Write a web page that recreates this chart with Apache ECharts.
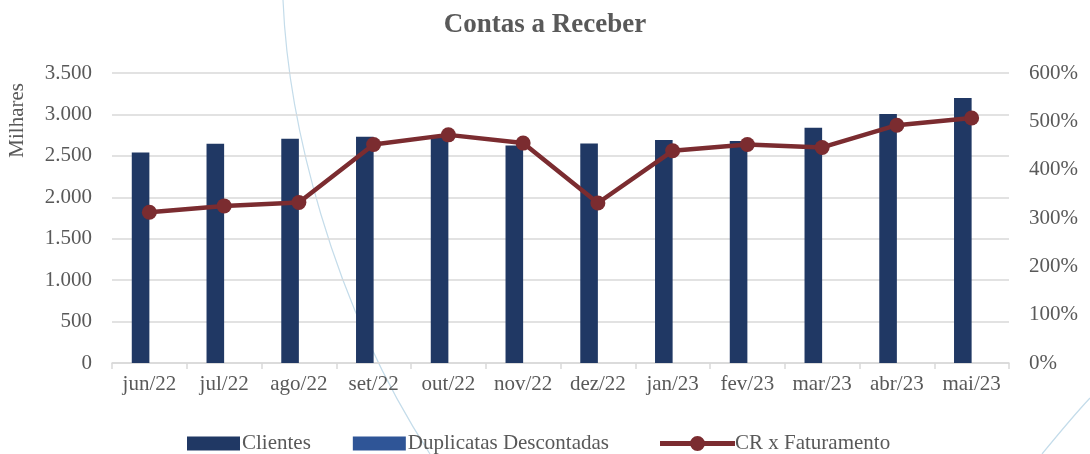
<!DOCTYPE html>
<html>
<head>
<meta charset="utf-8">
<title>Contas a Receber</title>
<script src="https://cdn.jsdelivr.net/npm/echarts@6/dist/echarts.min.js"></script>
<style>
  html, body { margin: 0; padding: 0; background: #fff; }
  #chart { width: 1090px; height: 454px; }
</style>
</head>
<body>
<div id="chart"></div>
<script>
// dados
const meses = ['jun/22', 'jul/22', 'ago/22', 'set/22', 'out/22', 'nov/22', 'dez/22', 'jan/23', 'fev/23', 'mar/23', 'abr/23', 'mai/23']
const clientes = [2540, 2645, 2705, 2730, 2745, 2625, 2648, 2690, 2680, 2838, 3005, 3198]
const duplicatas = [0, 0, 0, 0, 0, 0, 0, 0, 0, 0, 0, 0]
const crFaturamento = [312, 325, 332, 452, 472, 455, 331, 439, 452, 446, 492, 507]

const FONT = 'Liberation Serif, DejaVu Serif, serif'
const GRAY = '#595959'
const VINHO = '#7b2c30'

const chart = echarts.init(document.getElementById('chart'))

// formata milhares com ponto
function milhar(v) {
  return String(v).replace(/\B(?=(\d{3})+(?!\d))/g, '.')
}

// ícone da legenda da linha: traço grosso com bolinha no meio
const iconeLinha = 'path://M0,5h75v5h-75z M45,7.5a7.5,7.5 0 1 1 -15,0a7.5,7.5 0 1 1 15,0z'

chart.setOption({
  animation: false,
  textStyle: { fontFamily: FONT, color: GRAY },
  title: {
    text: 'Contas a Receber',
    left: 'center',
    top: 7,
    textStyle: { fontFamily: FONT, fontSize: 27, fontWeight: 'bold', color: GRAY }
  },
  legend: [
    {
      left: 182,
      top: 428,
      itemWidth: 53,
      itemHeight: 14,
      itemGap: 42,
      textStyle: { fontFamily: FONT, fontSize: 21, color: GRAY, padding: [0, 0, 0, -3] },
      data: [
        { name: 'Clientes', icon: 'rect' },
        { name: 'Duplicatas Descontadas', icon: 'rect' }
      ]
    },
    {
      left: 655,
      top: 428,
      itemWidth: 75,
      itemHeight: 15,
      textStyle: { fontFamily: FONT, fontSize: 21, color: GRAY, padding: [0, 0, 0, -5] },
      data: [{ name: 'CR x Faturamento', icon: iconeLinha, itemStyle: { color: VINHO } }]
    }
  ],
  grid: { left: 112, right: 81, top: 73, bottom: 91 },
  xAxis: {
    type: 'category',
    data: meses,
    axisLine: { lineStyle: { color: '#d9d9d9', width: 1.5 } },
    axisTick: { show: true, length: 6, lineStyle: { color: '#d9d9d9', width: 1.5 } },
    axisLabel: { interval: 0, fontFamily: FONT, fontSize: 21, color: GRAY, margin: 11 }
  },
  yAxis: [
    {
      type: 'value',
      min: 0,
      max: 3500,
      interval: 500,
      axisLine: { show: false },
      axisTick: { show: false },
      splitLine: { lineStyle: { color: '#d9d9d9', width: 1.5 } },
      axisLabel: { fontFamily: FONT, fontSize: 21, color: GRAY, margin: 20, formatter: milhar }
    },
    {
      type: 'value',
      min: 0,
      max: 600,
      interval: 100,
      axisLine: { show: false },
      axisTick: { show: false },
      splitLine: { show: false },
      axisLabel: { fontFamily: FONT, fontSize: 21, color: GRAY, margin: 20, formatter: '{value}%' }
    }
  ],
  graphic: [
    {
      type: 'text',
      left: 7,
      top: 83,
      rotation: Math.PI / 2,
      style: { text: 'Milhares', fontFamily: FONT, fontSize: 21, fill: GRAY }
    },
    {
      type: 'bezierCurve',
      z: -1,
      shape: { x1: 283, y1: 0, cpx1: 288, cpy1: 120, cpx2: 330, cpy2: 300, x2: 430, y2: 454 },
      style: { stroke: '#c4dcea', lineWidth: 1.2, fill: null }
    },
    {
      type: 'bezierCurve',
      z: -1,
      shape: { x1: 1042, y1: 454, cpx1: 1060, cpy1: 432, cpx2: 1075, cpy2: 414, x2: 1090, y2: 398 },
      style: { stroke: '#c4dcea', lineWidth: 1.2, fill: null }
    }
  ],
  series: [
    {
      name: 'Clientes',
      type: 'bar',
      data: clientes,
      barWidth: 17.6,
      barGap: '0%',
      itemStyle: { color: '#203864' }
    },
    {
      name: 'Duplicatas Descontadas',
      type: 'bar',
      data: duplicatas,
      barWidth: 17.6,
      itemStyle: { color: '#2f5597' }
    },
    {
      name: 'CR x Faturamento',
      type: 'line',
      yAxisIndex: 1,
      data: crFaturamento,
      symbol: 'circle',
      symbolSize: 15,
      lineStyle: { color: VINHO, width: 4.5 },
      itemStyle: { color: VINHO }
    }
  ]
})
</script>
</body>
</html>
